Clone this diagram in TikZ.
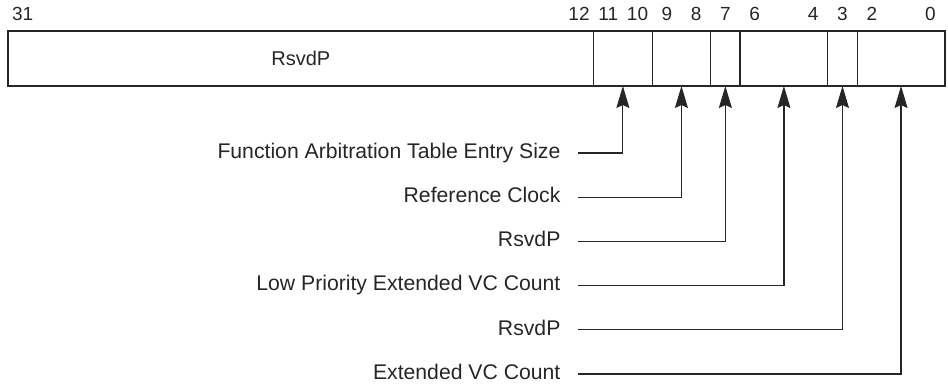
\documentclass[tikz,border=0pt]{standalone}
\usepackage{fontspec}
\setmainfont{Liberation Sans}
\usetikzlibrary{positioning, arrows.meta}

\newcommand\bitw{14.64pt}

\begin{document}
\begin{tikzpicture}[x=0.5pt, y=-0.5pt, line width=0.6pt, draw=black!85, text=black!85,
        >={Stealth[length=11pt, width=6.5pt, inset=1.5pt]},
        field/.style={draw, minimum height=27.5pt, inner sep=0pt, outer sep=0pt, anchor=west},
        bitnum/.style={anchor=base, font=\fontsize{9.5}{11}\selectfont},
        lbl/.style={anchor=mid east, inner xsep=8.5pt, font=\fontsize{10.6}{12}\selectfont}]
    \useasboundingbox (0,0) rectangle (948,391);

    % register fields
    \node[field, minimum width=20*\bitw, font=\fontsize{10}{12}\selectfont] (f3112) at (8,58.5) {RsvdP};
    \node[field, minimum width=2*\bitw, right=0pt of f3112] (f1110) {};
    \node[field, minimum width=2*\bitw, right=0pt of f1110] (f98) {};
    \node[field, minimum width=\bitw, right=0pt of f98] (f7) {};
    \node[field, minimum width=3*\bitw, right=0pt of f7] (f64) {};
    \node[field, minimum width=\bitw, right=0pt of f64] (f3) {};
    \node[field, minimum width=3*\bitw, right=0pt of f3] (f20) {};

    % bit numbers
    \node[bitnum] (b31) at ({8+0.5*29.28},20.5) {31};
    \foreach \b in {12,11,10,9,8,7,6,4,3,2,0}
        \node[bitnum] (b\b) at ({945-(\b+0.5)*29.28},20.5) {\b};

    % field names
    \node[lbl] (lfats) at (578,153) {Function Arbitration Table Entry Size};
    \node[lbl] (lrefclk) at (578,197.2) {Reference Clock};
    \node[lbl] (lrsvd7) at (578,241.4) {RsvdP};
    \node[lbl] (llpvc) at (578,285.6) {Low Priority Extended VC Count};
    \node[lbl] (lrsvd3) at (578,329.8) {RsvdP};
    \node[lbl] (lextvc) at (578,374) {Extended VC Count};

    % pointers
    \draw[->] (lfats.mid east) -| (f1110.south);
    \draw[->] (lrefclk.mid east) -| (f98.south);
    \draw[->] (lrsvd7.mid east) -| (f7.south);
    \draw[->] (llpvc.mid east) -| (f64.south);
    \draw[->] (lrsvd3.mid east) -| (f3.south);
    \draw[->] (lextvc.mid east) -| (f20.south);
\end{tikzpicture}
\end{document}
